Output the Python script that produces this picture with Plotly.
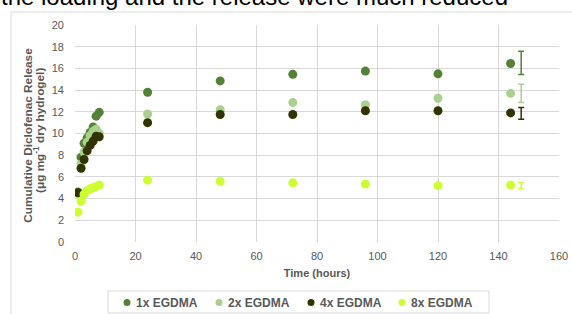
import plotly.graph_objects as go

times = [1, 2, 3, 4, 5, 6, 7, 8, 24, 48, 72, 96, 120, 144]
series_names = ["1x EGDMA", "2x EGDMA", "4x EGDMA", "8x EGDMA"]
release_1x = [4.6, 7.8, 9.1, 9.6, 10.1, 10.6, 11.6, 11.95, 13.8, 14.85, 15.45, 15.75, 15.5, 16.45]
release_2x = [4.5, 7.2, 8.3, 9.2, 9.8, 10.2, 10.4, 10.0, 11.8, 12.2, 12.85, 12.65, 13.25, 13.7]
release_4x = [4.55, 6.8, 7.6, 8.4, 8.9, 9.3, 9.75, 9.7, 11.0, 11.75, 11.75, 12.1, 12.1, 11.9]
release_8x = [2.75, 3.75, 4.4, 4.75, 4.9, 5.0, 5.1, 5.25, 5.7, 5.6, 5.45, 5.35, 5.2, 5.25]
err_time = 147.5
err_means = [16.5, 13.7, 11.85, 5.2]
err_sizes = [1.07, 0.85, 0.54, 0.26]
colors = ["#548235", "#A9D18E", "#333300", "#CCFF33"]
x_ticks = [0, 20, 40, 60, 80, 100, 120, 140, 160]
y_ticks = [0, 2, 4, 6, 8, 10, 12, 14, 16, 18, 20]

FONT = "Liberation Sans, Arial, sans-serif"
GRAY = "#595959"
GRID = "#D9D9D9"
W, H = 572, 314
ML, MR, MT, MB = 75, 13, 25, 72
PW, PH = W - ML - MR, H - MT - MB


def px(x):
    return (x - ML) / PW


def py(y):
    return (H - MB - y) / PH


fig = go.Figure()
all_series = [release_1x, release_2x, release_4x, release_8x]
for name, vals, col in zip(series_names, all_series, colors):
    fig.add_trace(go.Scatter(x=times, y=vals, mode="markers", name=name, showlegend=False,
                             marker=dict(color=col, size=9, line=dict(width=0))))
for m, e, col in zip(err_means, err_sizes, colors):
    fig.add_trace(go.Scatter(x=[err_time], y=[m], mode="markers", showlegend=False,
                             marker=dict(color="rgba(0,0,0,0)", size=1),
                             error_y=dict(type="data", array=[e], color=col,
                                          thickness=1.5, width=3),
                             hoverinfo="skip"))

fig.update_layout(
    width=W, height=H,
    margin=dict(l=ML, r=MR, t=MT, b=MB),
    paper_bgcolor="white", plot_bgcolor="white",
    font=dict(family=FONT, color=GRAY, size=11),
    xaxis=dict(range=[0, 160], tickvals=x_ticks, showgrid=True, gridcolor=GRID,
               gridwidth=1, zeroline=False, showline=False, ticks="", automargin=False,
               tickfont=dict(size=11, color=GRAY), ticklabelstandoff=6,
               title=dict(text="<b>Time (hours)</b>", font=dict(size=11, color=GRAY), standoff=8)),
    yaxis=dict(range=[0, 20], tickvals=y_ticks, showgrid=True, gridcolor=GRID,
               gridwidth=1, zeroline=False, showline=False, ticks="", automargin=False,
               tickfont=dict(size=11, color=GRAY), ticklabelstandoff=10),
    showlegend=False,
)
# y axis title, two rotated lines
fig.add_annotation(xref="paper", yref="paper", x=px(27.7), y=py(135), xanchor="center", yanchor="middle",
                   text="<b>Cumulative Diclofenac Release</b>",
                   textangle=-90, showarrow=False, font=dict(size=11.8, color=GRAY, family=FONT))
fig.add_annotation(xref="paper", yref="paper", x=px(39), y=py(131), xanchor="center", yanchor="middle",
                   text="<b>(μg mg<sup>-1</sup> dry hydrogel)</b>",
                   textangle=-90, showarrow=False, font=dict(size=11.8, color=GRAY, family=FONT))
# outer chart frame
fig.add_shape(type="rect", xref="paper", yref="paper", x0=px(11), y0=py(330), x1=px(590), y1=py(12),
              line=dict(color=GRID, width=1), fillcolor="rgba(0,0,0,0)", layer="below")
# legend box
fig.add_shape(type="rect", xref="paper", yref="paper", x0=px(108), y0=py(313), x1=px(489), y1=py(291),
              line=dict(color=GRID, width=1), fillcolor="white", layer="above")
marker_x = [127, 219, 311, 402]
for name, col, mx in zip(series_names, colors, marker_x):
    fig.add_shape(type="circle", xref="paper", yref="paper", xsizemode="pixel", ysizemode="pixel",
                  xanchor=px(mx), yanchor=py(302.5), x0=-3.5, x1=3.5, y0=-3.5, y1=3.5,
                  fillcolor=col, line=dict(width=0), layer="above")
    fig.add_annotation(xref="paper", yref="paper", x=px(mx + 7), y=py(302.5), xanchor="left",
                       yanchor="middle", text="<b>" + name + "</b>", showarrow=False,
                       font=dict(size=12, color=GRAY, family=FONT))
# document text cut off at top
fig.add_annotation(xref="paper", yref="paper", x=px(-1), y=py(-3.5), xanchor="left", yanchor="middle",
                   text="the loading and the release were much reduced", showarrow=False,
                   font=dict(size=24, color="#000000", family=FONT))
fig.write_html("out.html", config={"displayModeBar": False},
               post_script="document.body.style.margin='0';")
